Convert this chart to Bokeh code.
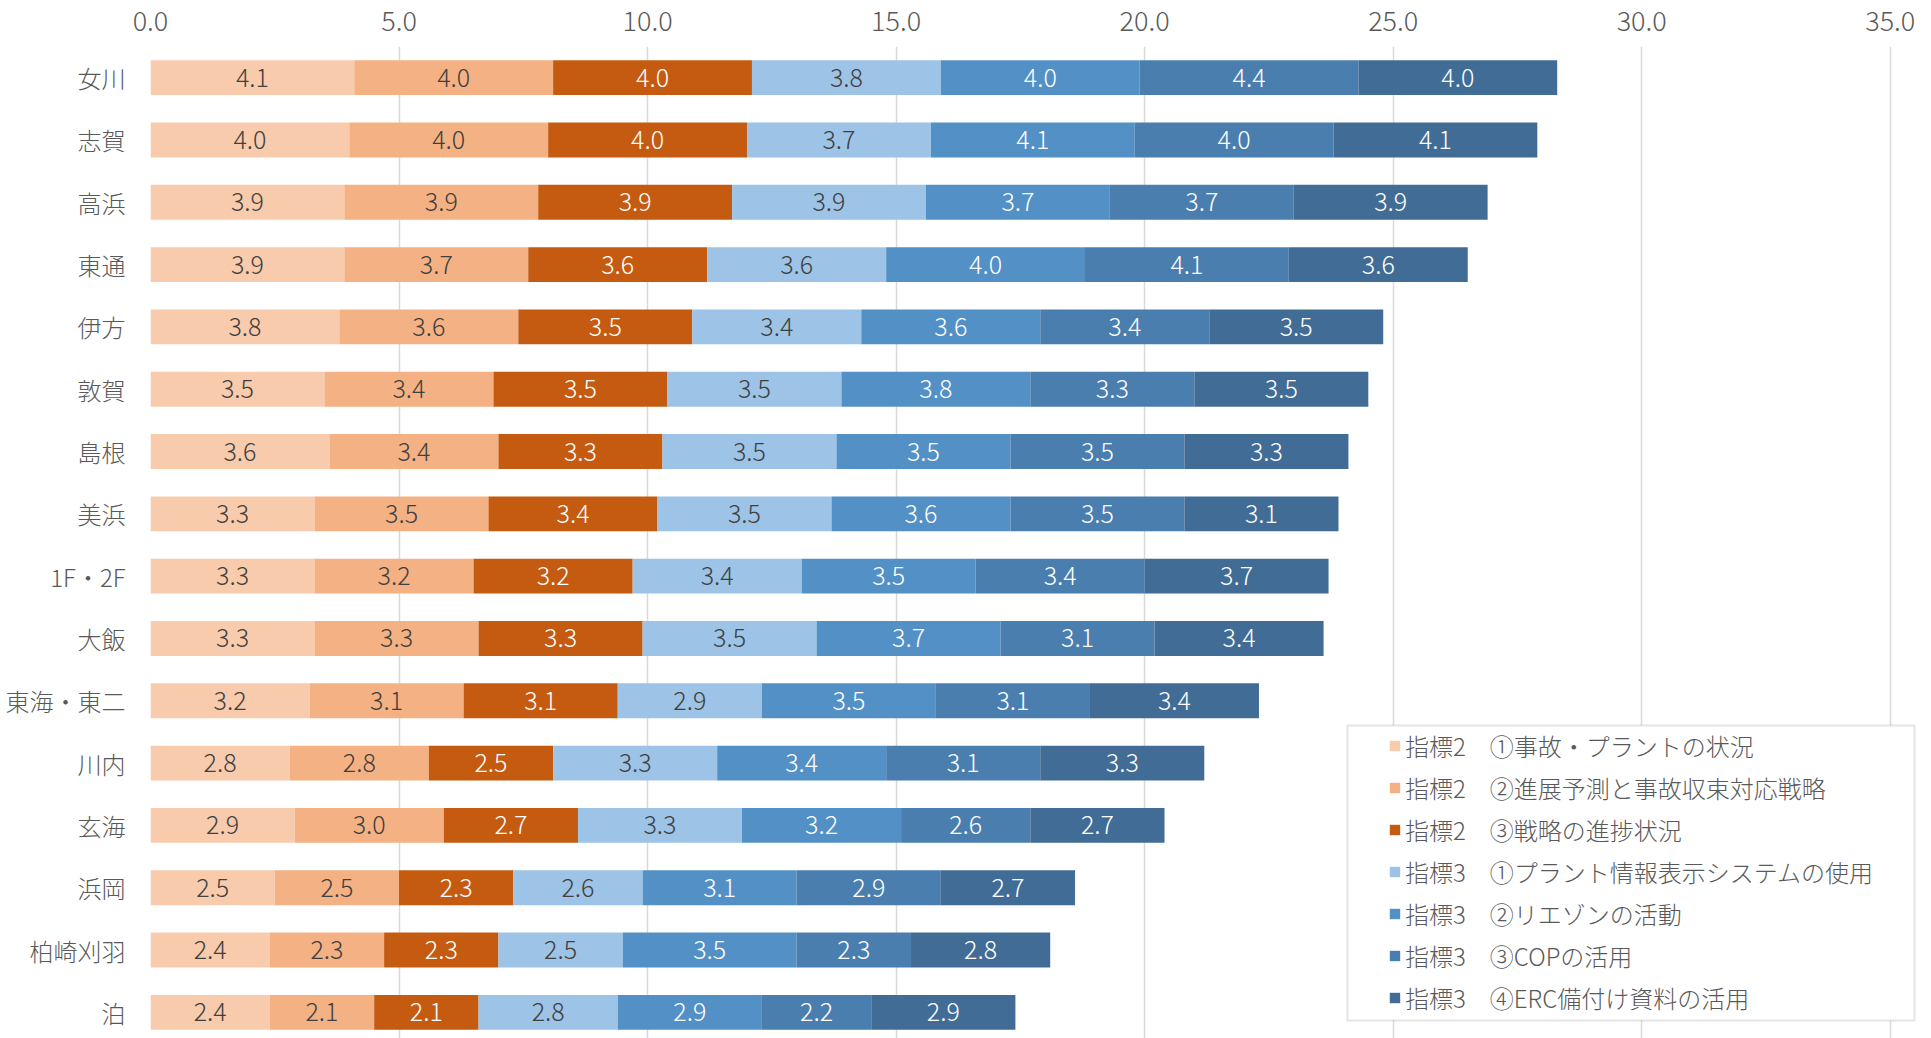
import numpy as np
from bokeh.plotting import figure
from bokeh.models import Range1d, FixedTicker, Legend, LegendItem, BoxAnnotation
from bokeh.core.properties import value
from bokeh.embed import file_html
from bokeh.resources import INLINE

sites = ["女川", "志賀", "高浜", "東通", "伊方", "敦賀", "島根", "美浜",
         "1F・2F", "大飯", "東海・東二", "川内", "玄海", "浜岡", "柏崎刈羽", "泊"]

s1 = [4.1, 4.0, 3.9, 3.9, 3.8, 3.5, 3.6, 3.3, 3.3, 3.3, 3.2, 2.8, 2.9, 2.5, 2.4, 2.4]
s2 = [4.0, 4.0, 3.9, 3.7, 3.6, 3.4, 3.4, 3.5, 3.2, 3.3, 3.1, 2.8, 3.0, 2.5, 2.3, 2.1]
s3 = [4.0, 4.0, 3.9, 3.6, 3.5, 3.5, 3.3, 3.4, 3.2, 3.3, 3.1, 2.5, 2.7, 2.3, 2.3, 2.1]
s4 = [3.8, 3.7, 3.9, 3.6, 3.4, 3.5, 3.5, 3.5, 3.4, 3.5, 2.9, 3.3, 3.3, 2.6, 2.5, 2.8]
s5 = [4.0, 4.1, 3.7, 4.0, 3.6, 3.8, 3.5, 3.6, 3.5, 3.7, 3.5, 3.4, 3.2, 3.1, 3.5, 2.9]
s6 = [4.4, 4.0, 3.7, 4.1, 3.4, 3.3, 3.5, 3.5, 3.4, 3.1, 3.1, 3.1, 2.6, 2.9, 2.3, 2.2]
s7 = [4.0, 4.1, 3.9, 3.6, 3.5, 3.5, 3.3, 3.1, 3.7, 3.4, 3.4, 3.3, 2.7, 2.7, 2.8, 2.9]

series_names = [
    "指標2　①事故・プラントの状況",
    "指標2　②進展予測と事故収束対応戦略",
    "指標2　③戦略の進捗状況",
    "指標3　①プラント情報表示システムの使用",
    "指標3　②リエゾンの活動",
    "指標3　③COPの活用",
    "指標3　④ERC備付け資料の活用",
]
x_ticks = [0, 5, 10, 15, 20, 25, 30, 35]
x_tick_labels = ["0.0", "5.0", "10.0", "15.0", "20.0", "25.0", "30.0", "35.0"]

colors = ["#F8CBAD", "#F4B183", "#C55A11", "#9DC3E6", "#5390C6", "#4A7EAF", "#416C96"]
label_colors = ["#404040", "#404040", "#FFFFFF", "#404040", "#FFFFFF", "#FFFFFF", "#FFFFFF"]

FONT = "Noto Sans CJK JP Light, Noto Sans CJK JP"

p = figure(width=1931, height=1038, output_backend="svg", toolbar_location=None,
           x_axis_location="above",
           x_range=Range1d(0, 35.83), y_range=Range1d(15.42, -0.5),
           min_border_left=150, min_border_right=0, min_border_top=46, min_border_bottom=0)
p.outline_line_color = None
p.background_fill_color = "white"
p.border_fill_color = "white"

rows = np.arange(len(sites))
data = [np.array(s) for s in (s1, s2, s3, s4, s5, s6, s7)]
left = np.zeros(len(sites))
renderers = []
for i, vals in enumerate(data):
    right = left + vals
    r = p.hbar(y=rows, left=left, right=right, height=0.56,
               fill_color=colors[i], line_color=None)
    renderers.append(r)
    p.text(x=left + vals / 2, y=rows, text=[f"{v:.1f}" for v in vals],
           text_align="center", text_baseline="middle",
           text_color=label_colors[i], text_font=value(FONT),
           text_font_size="25px")
    left = right

# axes
xa = p.xaxis[0]
xa.ticker = FixedTicker(ticks=x_ticks)
xa.major_label_overrides = {t: l for t, l in zip(x_ticks, x_tick_labels)}
xa.axis_line_color = None
xa.major_tick_line_color = None
xa.minor_tick_line_color = None
xa.major_label_text_font = FONT
xa.major_label_text_font_size = "27px"
xa.major_label_text_color = "#595959"
xa.major_label_standoff = 10

ya = p.yaxis[0]
ya.ticker = FixedTicker(ticks=list(rows))
ya.major_label_overrides = {int(i): s for i, s in zip(rows, sites)}
ya.axis_line_color = None
ya.major_tick_line_color = None
ya.minor_tick_line_color = None
ya.major_label_text_font = FONT
ya.major_label_text_font_size = "24px"
ya.major_label_text_color = "#595959"
ya.major_label_standoff = 19

p.xgrid.grid_line_color = "#D9D9D9"
p.xgrid.grid_line_width = 1.5
p.xgrid.ticker = FixedTicker(ticks=x_ticks)
p.ygrid.grid_line_color = None

box = BoxAnnotation(left=1347, right=1914, top=725, bottom=1020,
                    left_units="canvas", right_units="canvas",
                    top_units="canvas", bottom_units="canvas",
                    fill_color="white", fill_alpha=1.0,
                    line_color="#A6A6A6", line_width=2)
p.add_layout(box)

legend = Legend(items=[LegendItem(label=n, renderers=[r]) for n, r in zip(series_names, renderers)],
                location=(1238, 23), orientation="vertical",
                padding=0, margin=0, spacing=7,
                glyph_width=13, glyph_height=13, label_height=22, label_standoff=4,
                label_text_font=FONT, label_text_font_size="24px",
                label_text_color="#595959",
                border_line_alpha=0, background_fill_alpha=0)
p.add_layout(legend)

open("out.html", "w").write(file_html(p, INLINE))
